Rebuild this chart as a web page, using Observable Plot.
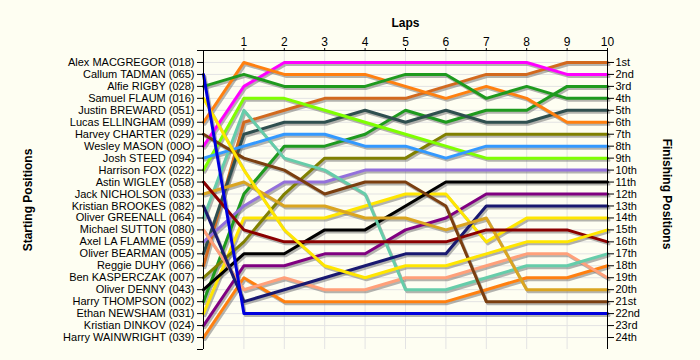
<!DOCTYPE html>
<html><head><meta charset="utf-8">
<script src="https://cdn.jsdelivr.net/npm/d3@7"></script>
<script src="https://cdn.jsdelivr.net/npm/@observablehq/plot@0.6"></script>
<style>
html,body{margin:0;padding:0;background:#FEFEF2;}
</style></head><body><div id="chart"></div>
<script>
// Laps (0 = start)
const laps = [0,1,2,3,4,5,6,7,8,9,10];

// Starting grid labels (position 1..24)
const startLabels = [
  "Alex MACGREGOR (018)","Callum TADMAN (065)","Alfie RIGBY (028)","Samuel FLAUM (016)",
  "Justin BREWARD (051)","Lucas ELLINGHAM (099)","Harvey CHARTER (029)","Wesley MASON (00O)",
  "Josh STEED (094)","Harrison FOX (022)","Astin WIGLEY (058)","Jack NICHOLSON (033)",
  "Kristian BROOKES (082)","Oliver GREENALL (064)","Michael SUTTON (080)","Axel LA FLAMME (059)",
  "Oliver BEARMAN (005)","Reggie DUHY (066)","Ben KASPERCZAK (007)","Oliver DENNY (043)",
  "Harry THOMPSON (002)","Ethan NEWSHAM (031)","Kristian DINKOV (024)","Harry WAINWRIGHT (039)"
];

// Finishing position labels
const finishLabels = ["1st","2nd","3rd","4th","5th","6th","7th","8th","9th","10th","11th","12th",
  "13th","14th","15th","16th","17th","18th","19th","20th","21st","22nd","23rd","24th"];

// Position per lap (lap 0..10)
const callumTadman    = [2,22,22,22,22,22,22,22,22,22,22];
const alfieRigby      = [3,2,3,3,3,2,2,4,3,4,4];
const samuelFlaum     = [4,10,15,18,19,18,18,17,16,16,15];
const lucasEllingham  = [6,1,2,2,2,3,4,3,4,6,6];
const harveyCharter   = [7,9,10,12,11,11,13,21,21,21,21];
const wesleyMason     = [8,3,1,1,1,1,1,1,1,2,2];
const joshSteed       = [9,8,7,7,8,8,9,8,8,8,8];
const harrisonFox     = [10,4,4,5,6,7,8,9,9,9,9];
const astinWigley     = [11,15,16,16,16,16,16,15,15,15,16];
const jackNicholson   = [12,11,13,13,14,14,15,14,20,20,20];
const kristianBrookes = [13,21,20,19,18,17,17,13,13,13,13];
const oliverGreenall  = [14,5,9,10,12,20,20,19,18,18,17];
const michaelSutton   = [15,20,19,20,20,19,19,18,17,17,19];
const axelLaFlamme    = [16,13,11,11,10,10,10,10,10,10,10];
const oliverBearman   = [17,7,6,6,5,6,5,6,6,5,5];
const reggieDuhy      = [18,6,5,4,4,4,3,2,2,1,1];
const benKasperczak   = [19,16,12,9,9,9,7,7,7,7,7];
const oliverDenny     = [20,17,17,15,15,13,11,11,11,11,11];
const harryThompson   = [21,12,8,8,7,5,6,5,5,3,3];
const ethanNewsham    = [22,14,14,14,13,12,12,16,14,14,14];
const kristianDinkov  = [23,18,18,17,17,15,14,12,12,12,12];
const harryWainwright = [24,19,21,21,21,21,21,20,19,19,18];

const series = [
  ["Harry WAINWRIGHT (039)", harryWainwright, "#FF8010"],
  ["Kristian DINKOV (024)", kristianDinkov, "#800080"],
  ["Ethan NEWSHAM (031)", ethanNewsham, "#FFE600"],
  ["Harry THOMPSON (002)", harryThompson, "#1E9A1E"],
  ["Oliver DENNY (043)", oliverDenny, "#000000"],
  ["Ben KASPERCZAK (007)", benKasperczak, "#808000"],
  ["Reggie DUHY (066)", reggieDuhy, "#D2691E"],
  ["Oliver BEARMAN (005)", oliverBearman, "#2F4F4F"],
  ["Axel LA FLAMME (059)", axelLaFlamme, "#9370DB"],
  ["Michael SUTTON (080)", michaelSutton, "#FFA07A"],
  ["Oliver GREENALL (064)", oliverGreenall, "#66CDAA"],
  ["Kristian BROOKES (082)", kristianBrookes, "#191970"],
  ["Jack NICHOLSON (033)", jackNicholson, "#DAA520"],
  ["Astin WIGLEY (058)", astinWigley, "#8B0000"],
  ["Harrison FOX (022)", harrisonFox, "#7FFF00"],
  ["Josh STEED (094)", joshSteed, "#3399FF"],
  ["Wesley MASON (00O)", wesleyMason, "#FF00FF"],
  ["Harvey CHARTER (029)", harveyCharter, "#7B3F10"],
  ["Lucas ELLINGHAM (099)", lucasEllingham, "#FF8010"],
  ["Samuel FLAUM (016)", samuelFlaum, "#FFE600"],
  ["Alfie RIGBY (028)", alfieRigby, "#1E9A1E"],
  ["Callum TADMAN (065)", callumTadman, "#0000DD"]
];

const rows = series.flatMap(([driver, pos]) => pos.map((p, i) => ({driver, lap: laps[i], pos: p})));
const lineNames = series.map(s => s[0]);
const lineColors = series.map(s => s[2]);
const positions = d3.range(1, 25);

const chart = Plot.plot({
  width: 700, height: 360,
  marginLeft: 203, marginRight: 93, marginTop: 50, marginBottom: 11,
  style: {background: "#FEFEF2", fontFamily: "'Liberation Sans', Arial, sans-serif", fontSize: "11px", color: "#000", overflow: "visible"},
  x: {domain: [0, 10], axis: null},
  y: {domain: [0, 25], reverse: true, axis: null},
  color: {domain: lineNames, range: lineColors},
  marks: [
    Plot.gridY(positions, {stroke: "#e3e3e3", strokeOpacity: 1}),
    Plot.gridX(laps.slice(1, 10), {stroke: "#e3e3e3", strokeOpacity: 1}),
    Plot.line(rows, {x: "lap", y: "pos", z: "driver", stroke: "#777", strokeOpacity: 0.55, strokeWidth: 3, dx: 1.5, dy: 2}),
    Plot.line(rows, {x: "lap", y: "pos", z: "driver", stroke: "driver", strokeWidth: 3}),
    Plot.ruleX([0, 10], {y1: 0, y2: 25, stroke: "#000"}),
    Plot.ruleY([0], {x1: 0, x2: 10, stroke: "#000"}),
    Plot.axisX(laps.slice(1), {anchor: "top", tickSize: 3, tickPadding: 2, label: null, fontSize: 12}),
    Plot.axisY([0, ...positions, 25], {anchor: "left", tickSize: 6, tickPadding: 3, label: null,
      tickFormat: d => (d >= 1 && d <= 24) ? startLabels[d - 1] : ""}),
    Plot.axisY(positions, {anchor: "right", tickSize: 6, tickPadding: 2, label: null,
      tickFormat: d => finishLabels[d - 1]}),
    Plot.text(["Laps"], {text: d => d, frameAnchor: "top", dy: -32, fontWeight: "bold", fontSize: 12}),
    Plot.text(["Starting Positions"], {text: d => d, frameAnchor: "left", textAnchor: "middle", dx: -175, rotate: -90, fontWeight: "bold", fontSize: 12}),
    Plot.text(["Finishing Positions"], {text: d => d, frameAnchor: "right", textAnchor: "middle", dx: 59, dy: -6, rotate: 90, fontWeight: "bold", fontSize: 12})
  ]
});
document.getElementById("chart").appendChild(chart);
</script>
</body></html>
